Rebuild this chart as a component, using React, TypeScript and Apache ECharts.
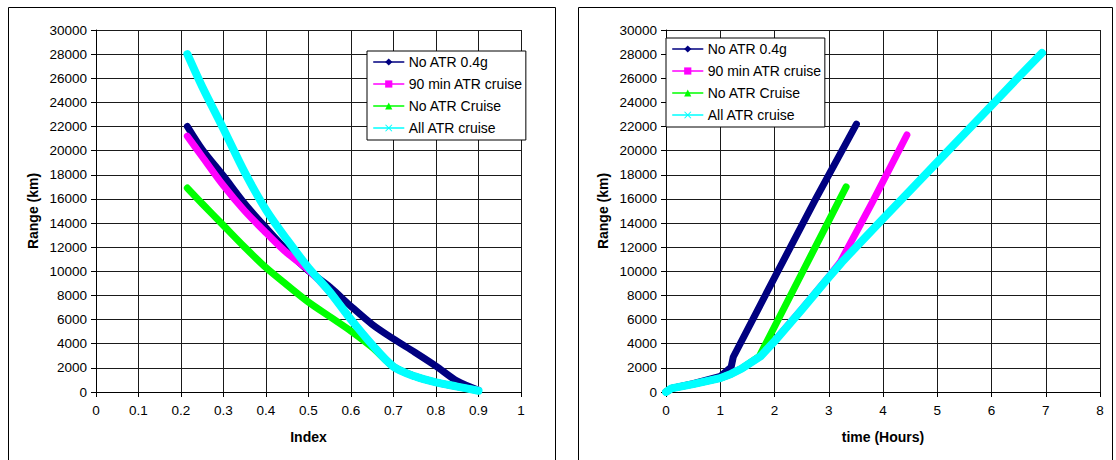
import React, { useEffect, useRef } from "react";
import * as echarts from "echarts";

// Series names
const seriesNames = ["No ATR 0.4g", "90 min ATR cruise", "No ATR Cruise", "All ATR cruise"];
const seriesColors = ["#000080", "#FF00FF", "#00FF00", "#00FFFF"];
const crossPath =
  "path://M0,1L1,0L5,4L9,0L10,1L6,5L10,9L9,10L5,6L1,10L0,9L4,5Z";
const seriesSymbols = ["diamond", "rect", "triangle", crossPath];

// Range vs Index
const indexValues = [0.215, 0.25, 0.3, 0.35, 0.4, 0.45, 0.5, 0.55, 0.6, 0.65, 0.7, 0.75, 0.8, 0.85, 0.9];
const rangeByIndexNoAtr04g = [22000, 20100, 17900, 15600, 13600, 11700, 10050, 8700, 7100, 5600, 4400, 3300, 2150, 900, 150];
const rangeByIndex90min = [21200, 19500, 17100, 15000, 13200, 11500, 10100, 8300, 6000, 3900, 2100, 1300, 800, 450, 150];
const rangeByIndexNoAtrCruise = [16900, 15600, 13800, 12000, 10300, 8850, 7450, 6250, 5050, 3700, 2100, 1300, 800, 450, 100];
const rangeByIndexAllAtr = [28000, 25300, 21800, 18200, 15100, 12600, 10300, 8300, 6000, 3900, 2100, 1300, 800, 450, 100];

// Range vs time (hours)
const timeNoAtr04g = [0, 0.1, 0.5, 1.0, 1.2, 1.24, 2.06, 2.76, 3.51];
const rangeByTimeNoAtr04g = [0, 300, 700, 1300, 2050, 2900, 10000, 16000, 22200];
const time90min = [0, 0.1, 0.5, 1.0, 1.2, 1.4, 1.74, 2.0, 2.5, 3.0, 3.21, 3.8, 4.44];
const rangeByTime90min = [0, 300, 650, 1150, 1500, 1950, 2950, 4250, 6850, 9550, 10750, 15700, 21300];
const timeNoAtrCruise = [0, 0.1, 0.5, 1.0, 1.2, 1.4, 1.72, 2.5, 3.32];
const rangeByTimeNoAtrCruise = [0, 300, 650, 1150, 1500, 1950, 2950, 9800, 17000];
const timeAllAtr = [0, 0.1, 0.5, 1.0, 1.2, 1.4, 1.74, 2.0, 2.5, 3.0, 3.24, 3.5, 4.0, 4.5, 5.0, 5.5, 6.0, 6.5, 6.93];
const rangeByTimeAllAtr = [0, 300, 650, 1150, 1500, 1950, 2950, 4200, 6800, 9500, 10750, 12000, 14350, 16700, 19050, 21400, 23750, 26100, 28100];

const FONT = "'Liberation Sans', Arial, sans-serif";

const zip = (xs: number[], ys: number[]) => xs.map((x, i) => [x, ys[i]]);

function App() {
  const ref = useRef<HTMLDivElement>(null);

  useEffect(() => {
    document.body.style.margin = "0";
    const chart = echarts.init(ref.current!, null, { renderer: "svg" });

    const nameStyle = { fontFamily: FONT, fontSize: 14, fontWeight: "bold", color: "#000" };
    const labelStyle = { fontFamily: FONT, fontSize: 13.5, color: "#000" };

    const valueAxisY = (gridIndex: number) => ({
      type: "value",
      gridIndex,
      min: 0,
      max: 30000,
      interval: 2000,
      name: "Range (km)",
      nameLocation: "middle",
      nameGap: 56,
      nameTextStyle: nameStyle,
      axisLine: { show: true, lineStyle: { color: "#000", width: 1 } },
      axisTick: { show: true, length: 5, lineStyle: { color: "#000" } },
      axisLabel: { ...labelStyle, margin: 9, formatter: (v: number) => String(v) },
      splitLine: { show: true, lineStyle: { color: "#1a1a1a", width: 1 } },
    });

    const valueAxisX = (gridIndex: number, max: number, interval: number, name: string) => ({
      type: "value",
      gridIndex,
      min: 0,
      max,
      interval,
      name,
      nameLocation: "middle",
      nameGap: 38,
      nameTextStyle: nameStyle,
      axisLine: { show: true, onZero: false, lineStyle: { color: "#000", width: 1 } },
      axisTick: { show: true, length: 5, lineStyle: { color: "#000" } },
      axisLabel: { ...labelStyle, margin: 11, formatter: (v: number) => String(Math.round(v * 10) / 10) },
      splitLine: { show: true, lineStyle: { color: "#1a1a1a", width: 1 } },
    });

    const legendBase = (left: number, top: number) => ({
      orient: "vertical",
      left,
      top,
      padding: [4, 3, 5, 6],
      itemGap: 8,
      itemWidth: 30,
      itemHeight: 9,
      backgroundColor: "#fff",
      borderColor: "#000",
      borderWidth: 1,
      borderRadius: 0,
      selectedMode: false,
      lineStyle: { width: 1.5 },
      textStyle: { fontFamily: FONT, fontSize: 14, color: "#000" },
      data: seriesNames,
    });

    const leftData = [
      zip(indexValues, rangeByIndexNoAtr04g),
      zip(indexValues, rangeByIndex90min),
      zip(indexValues, rangeByIndexNoAtrCruise),
      zip(indexValues, rangeByIndexAllAtr),
    ];
    const rightData = [
      zip(timeNoAtr04g, rangeByTimeNoAtr04g),
      zip(time90min, rangeByTime90min),
      zip(timeNoAtrCruise, rangeByTimeNoAtrCruise),
      zip(timeAllAtr, rangeByTimeAllAtr),
    ];

    const makeSeries = (data: number[][][], axisIndex: number, smooth: number) =>
      data.map((d, i) => ({
        type: "line",
        name: seriesNames[i],
        xAxisIndex: axisIndex,
        yAxisIndex: axisIndex,
        data: d,
        smooth,
        symbol: seriesSymbols[i],
        symbolSize: 8,
        showSymbol: false,
        silent: true,
        color: seriesColors[i],
        itemStyle: { color: seriesColors[i] },
        lineStyle: { color: seriesColors[i], width: i === 3 ? 8 : 7, cap: "round", join: "round" },
        z: 2 + i,
      }));

    chart.setOption({
      animation: false,
      backgroundColor: "#fff",
      grid: [
        { left: 96, right: 595, top: 30, bottom: 68 },
        { left: 666, right: 16, top: 30, bottom: 68 },
      ],
      xAxis: [valueAxisX(0, 1, 0.1, "Index"), valueAxisX(1, 8, 1, "time (Hours)")],
      yAxis: [valueAxisY(0), valueAxisY(1)],
      legend: [legendBase(367, 51), legendBase(666, 38)],
      graphic: [
        {
          type: "rect",
          shape: { x: 8.5, y: 7.5, width: 547, height: 470 },
          style: { fill: "none", stroke: "#000", lineWidth: 1 },
          silent: true,
        },
        {
          type: "rect",
          shape: { x: 578.5, y: 7.5, width: 534, height: 470 },
          style: { fill: "none", stroke: "#000", lineWidth: 1 },
          silent: true,
        },
      ],
      series: [...makeSeries(leftData, 0, 0.3), ...makeSeries(rightData, 1, 0)],
    });

    return () => chart.dispose();
  }, []);

  return <div ref={ref} style={{ width: 1116, height: 460 }} />;
}

export default App;
